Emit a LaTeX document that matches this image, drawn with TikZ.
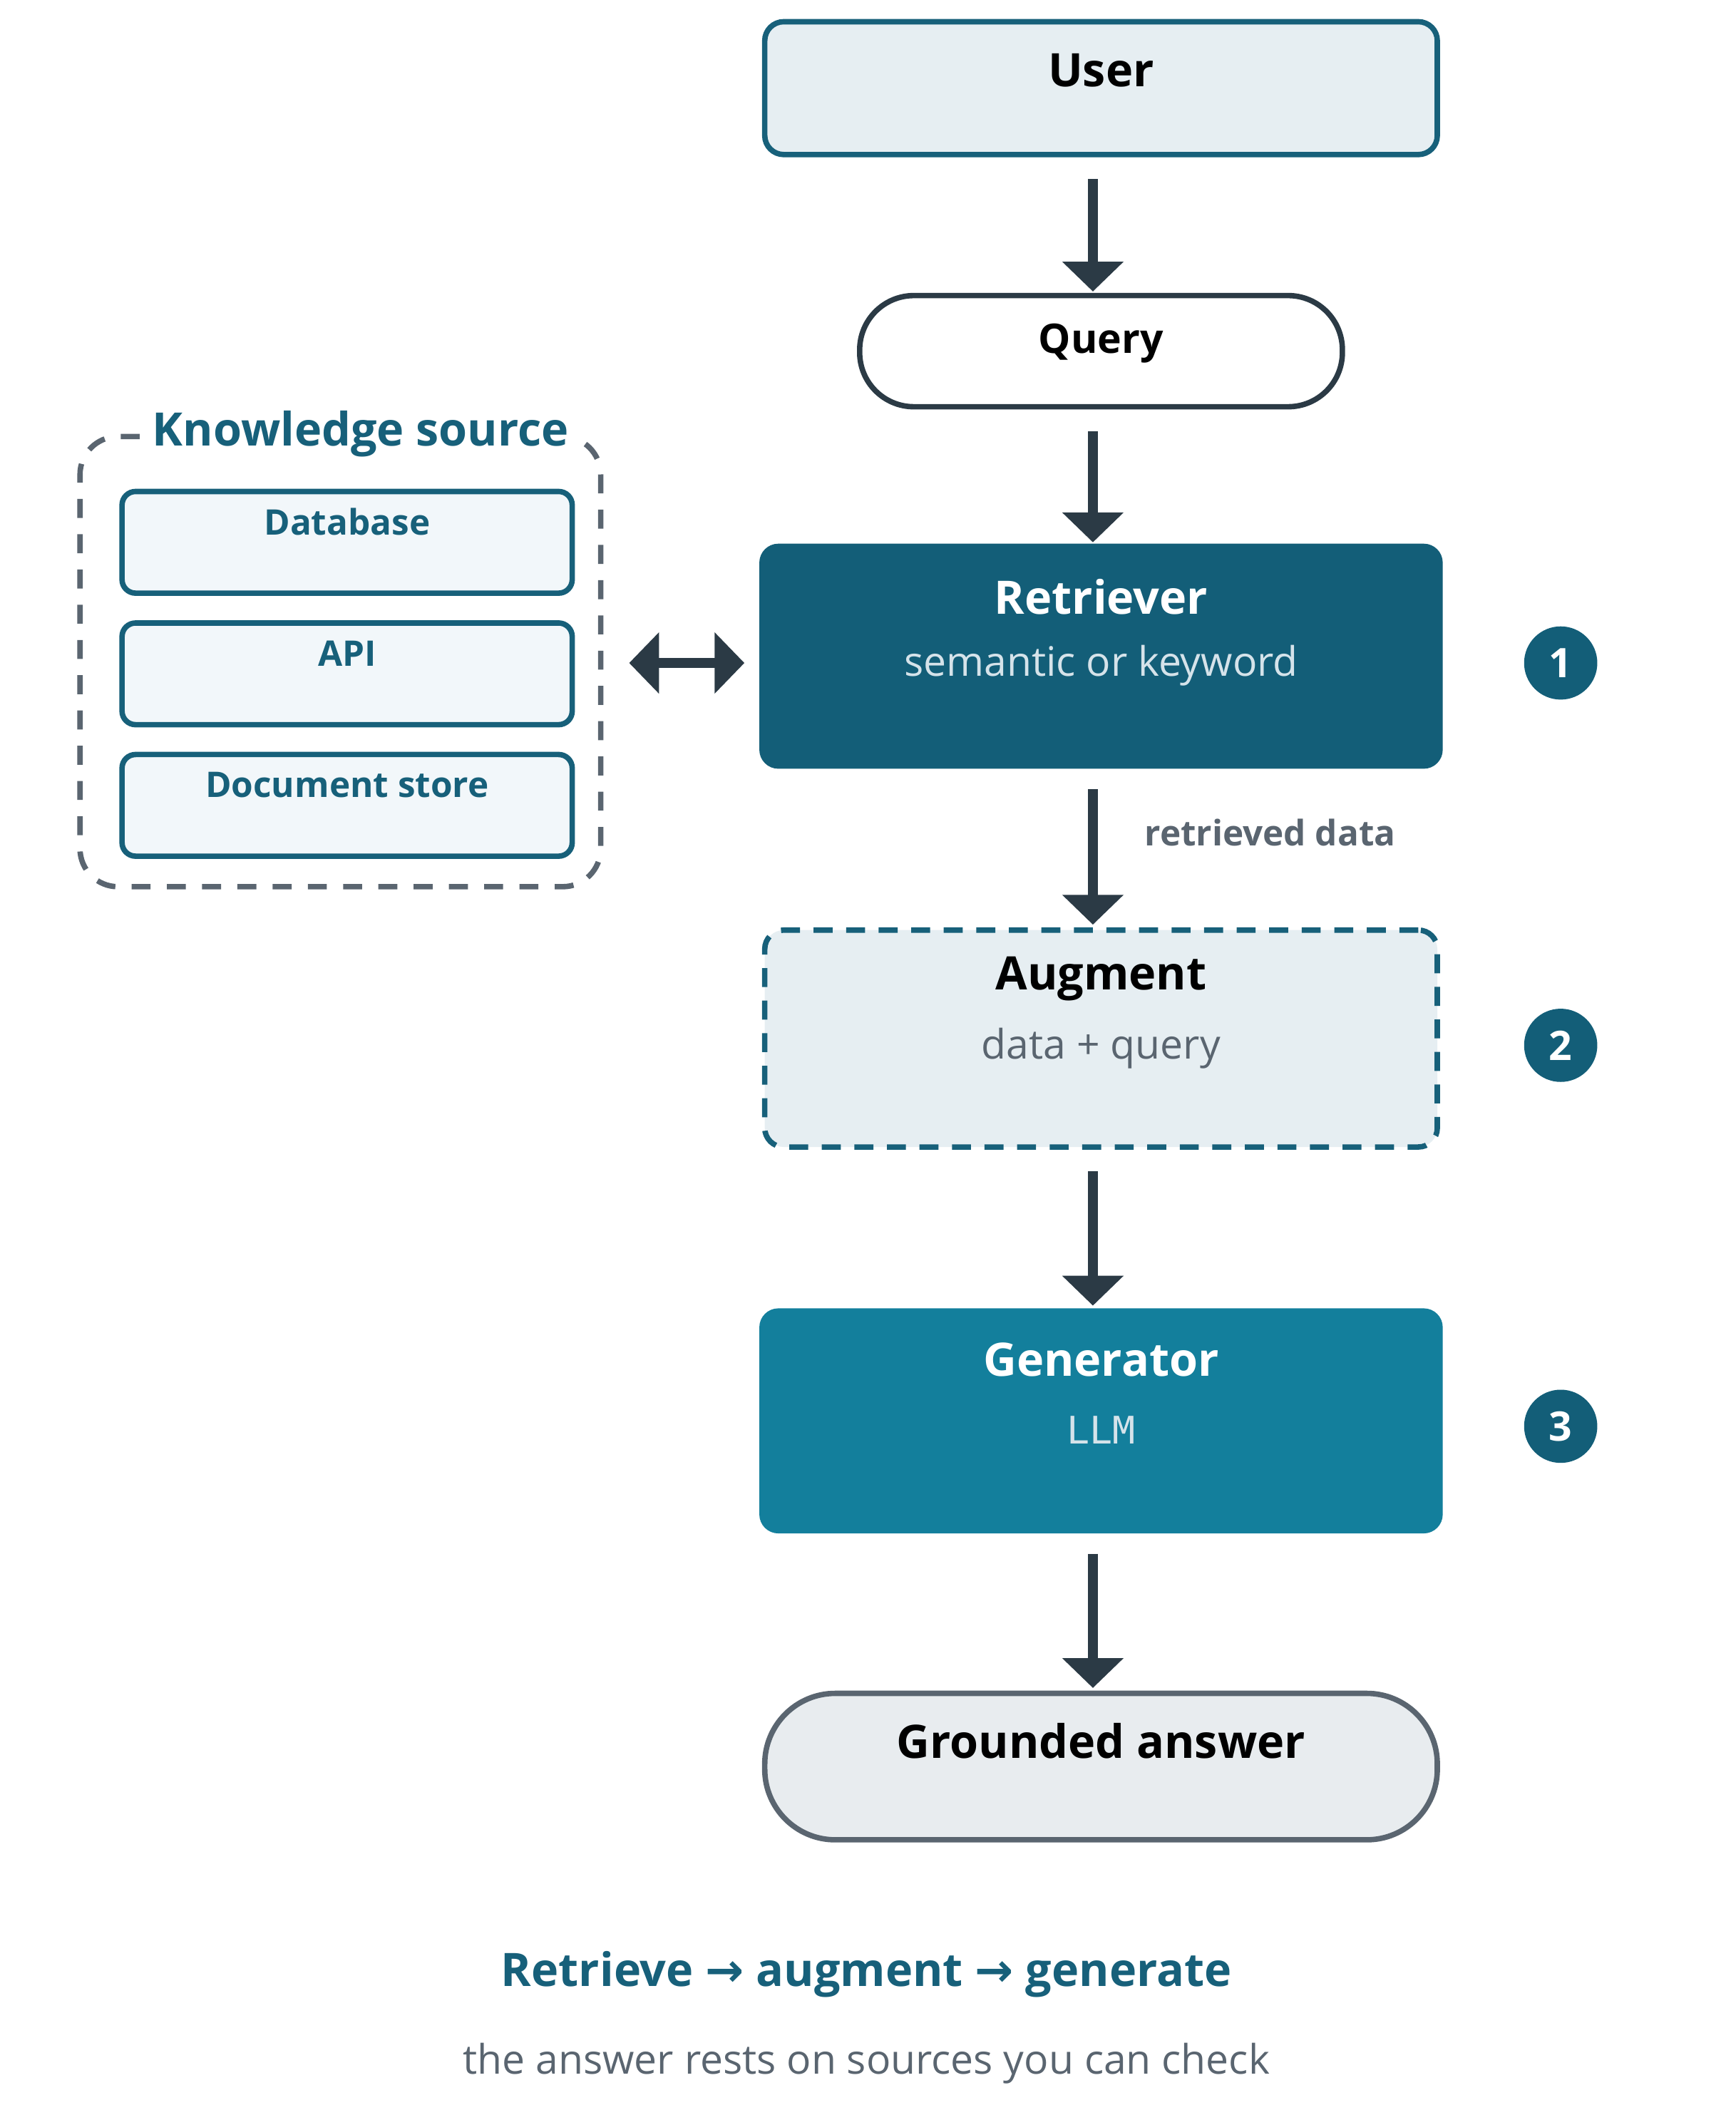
\documentclass[tikz,border=0pt]{standalone}
\usepackage{fontspec}
\setmainfont{Open Sans}
\newfontfamily\monofont{DejaVu Sans Mono}
\newfontfamily\arrowfont{DejaVu Sans}
\usetikzlibrary{arrows.meta}
\definecolor{teal}{HTML}{135E78}
\definecolor{tealline}{HTML}{17607A}
\definecolor{genteal}{HTML}{137F9C}
\definecolor{ink}{HTML}{2B3A45}
\definecolor{slate}{HTML}{5A6570}
\definecolor{mist}{HTML}{E6EEF2}
\definecolor{pale}{HTML}{F2F7FA}
\definecolor{fog}{HTML}{E8ECEF}
\definecolor{subtle}{HTML}{D5E3EA}
\begin{document}
\begin{tikzpicture}[x=0.5pt,y=-0.5pt,
box/.style={rectangle, rounded corners=7pt, minimum width=250pt, inner sep=0pt},
pill/.style={rectangle, rounded corners=20pt, inner sep=0pt},
source/.style={rectangle, rounded corners=5pt, draw=tealline, line width=2pt, fill=pale, minimum width=166pt, minimum height=37.5pt, inner sep=0pt},
badge/.style={circle, fill=teal, minimum size=27pt, inner sep=0pt, text=white, font=\bfseries\fontsize{15}{15}\selectfont},
flow/.style={ink, line width=3.5pt, -{Triangle[length=11pt,width=22pt]}},
title/.style={font=\bfseries\fontsize{17}{20}\selectfont},
sub/.style={font=\fontsize{15}{18}\selectfont},
small/.style={font=\bfseries\fontsize{13}{15}\selectfont},
]
\useasboundingbox (4,0) rectangle (1284,1560);

% main column
\node (user) [box, draw=tealline, line width=2pt, fill=mist, minimum width=248pt, minimum height=49pt] at (816,65) {};
\node at (816,52) [title] {User};
\node (query) [pill, draw=ink, line width=2pt, fill=white, minimum width=178pt, minimum height=41pt] at (816,259) {};
\node at (816,253) [font=\bfseries\fontsize{15}{18}\selectfont] {Query};
\node (retriever) [box, fill=teal, minimum width=252pt, minimum height=83pt] at (816,484) {};
\node at (816,440) [title, text=white] {Retriever};
\node at (816,491) [sub, text=subtle] {semantic or keyword};
\node (augment) [box, draw=tealline, line width=2pt, dashed, dash pattern=on 7pt off 5pt, fill=mist, minimum width=248pt, minimum height=80pt] at (816,766) {};
\node at (816,722) [title] {Augment};
\node at (816,773) [sub, text=slate] {data + query};
\node (generator) [box, fill=genteal, minimum width=252pt, minimum height=83pt] at (816,1048) {};
\node at (816,1003) [title, text=white] {Generator};
\node at (816,1055) [font=\monofont\fontsize{14}{16}\selectfont, text=subtle] {LLM};
\node (answer) [pill, rounded corners=26pt, draw=slate, line width=2pt, fill=fog, minimum width=248pt, minimum height=54pt] at (816,1303) {};
\node at (816,1284) [title] {Grounded answer};

% badges
\node (b1) [badge] at (1155,489) {1};
\node (b2) [badge] at (1155,771) {2};
\node (b3) [badge] at (1155,1052) {3};

% knowledge source
\node (ks) [rectangle, rounded corners=14pt, draw=slate, line width=2pt, dashed, dash pattern=on 7pt off 6pt, minimum width=192pt, minimum height=166pt] at (255,488) {};
\node (kstitle) [fill=white, inner sep=4pt, title, text=tealline] at (270,320) {Knowledge source};
\node (db) [source] at (260,400) {};
\node at (260,385) [small, text=tealline] {Database};
\node (api) [source] at (260,497) {};
\node at (260,482) [small, text=tealline] {API};
\node (docs) [source] at (260,594) {};
\node at (260,579) [small, text=tealline] {Document store};

% connectors
\coordinate (u1) at (810,132); \coordinate (u2) at (810,215);
\coordinate (q1) at (810,318); \coordinate (q2) at (810,400);
\coordinate (r1) at (810,582); \coordinate (r2) at (810,682);
\coordinate (a1) at (810,864); \coordinate (a2) at (810,963);
\coordinate (g1) at (810,1146); \coordinate (g2) at (810,1245);
\coordinate (k1) at (468,489); \coordinate (k2) at (553,489);
\draw[flow] (u1) -- (u2);
\draw[flow] (q1) -- (q2);
\draw[flow] (r1) -- (r2) node[pos=0.32, right=14pt, small, text=slate] {retrieved data};
\draw[flow] (a1) -- (a2);
\draw[flow] (g1) -- (g2);
\draw[ink, line width=3.5pt, {Triangle[length=11pt,width=22pt]}-{Triangle[length=11pt,width=22pt]}] (k1) -- (k2);

% caption
\node (caption) at (643,1456) [title, text=tealline] {Retrieve {\arrowfont\bfseries →} augment {\arrowfont\bfseries →} generate};
\node (note) at (643,1522) [sub, text=slate] {the answer rests on sources you can check};
\end{tikzpicture}
\end{document}
